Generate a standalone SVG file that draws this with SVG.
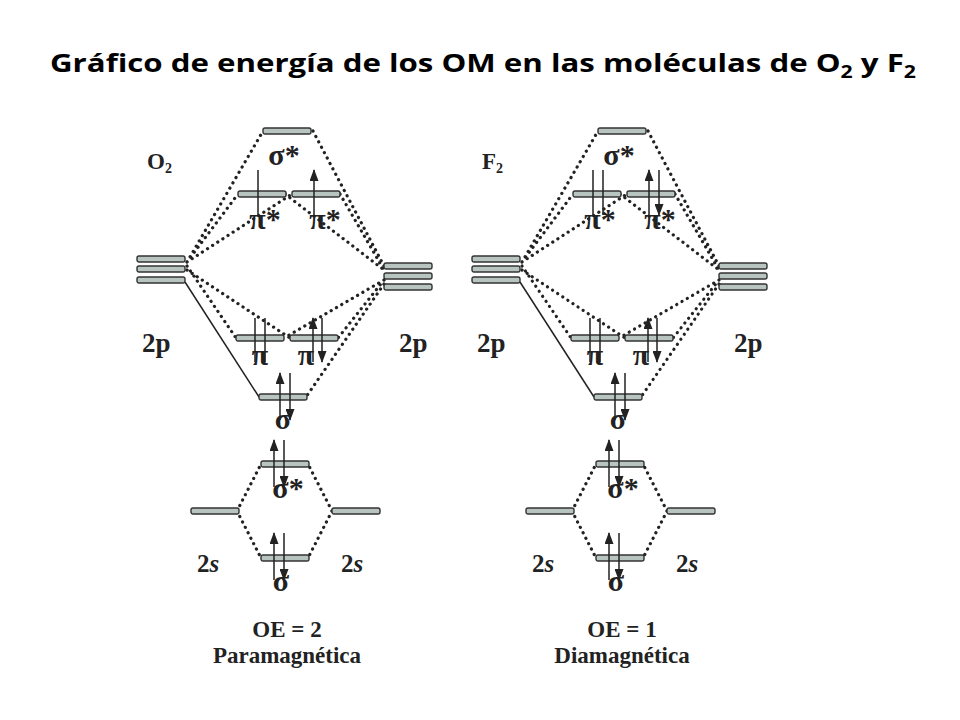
<svg xmlns="http://www.w3.org/2000/svg" width="960" height="720" viewBox="0 0 960 720">
<style>
.t{font-family:"Liberation Serif",serif;font-weight:bold;fill:#222}
.b{fill:#b8c4c0;stroke:#333;stroke-width:1.4}
.d{stroke:#222;stroke-width:3.2;stroke-dasharray:0.1 6;stroke-linecap:round;fill:none}
.a{stroke:#222;stroke-width:1.5;fill:none}
</style>
<defs>
<marker id="ah" markerWidth="12" markerHeight="9" refX="11" refY="4.5" orient="auto" markerUnits="userSpaceOnUse" viewBox="0 0 12 9"><path d="M0,0 L12,4.5 L0,9 Z" fill="#222"/></marker>
<rect id="bar" class="b" x="0" y="-3" width="48" height="6" rx="2"/>
<g id="base">
<g id="connectors">
<path class="d" d="M187,262 L263,131 M187,262 L238,194 M187,262 L292,194 M285,194 L384,270 M313,131 L384,266 M340,194 L384,270"/>
<path class="d" d="M187,266 L236,338 M187,270 L290,338 M384,280 L338,338 M384,280 L284,338 M384,284 L306,397"/>
<path class="a" d="M185,282 L259,397"/>
<path class="d" d="M237,511 L261,464 M237,511 L261,558 M332,511 L308,464 M332,511 L308,558"/>
</g>
<g id="levels">
<use href="#bar" x="263" y="131"/>
<use href="#bar" x="238" y="194"/><use href="#bar" x="292" y="194"/>
<use href="#bar" x="137" y="259"/><use href="#bar" x="137" y="269"/><use href="#bar" x="137" y="280"/>
<use href="#bar" x="384" y="266"/><use href="#bar" x="384" y="276"/><use href="#bar" x="384" y="287"/>
<use href="#bar" x="236" y="338"/><use href="#bar" x="290" y="338"/>
<use href="#bar" x="259" y="397"/>
<use href="#bar" x="261" y="464"/>
<use href="#bar" x="191" y="511"/><use href="#bar" x="332" y="511"/>
<use href="#bar" x="261" y="558"/>
</g>
<g id="electrons" class="a">
<path d="M258,215 L258,170 M314,215 L314,170" marker-end="url(#ah)"/>
<path d="M255,362 L255,318 M313,362 L313,318" marker-end="url(#ah)"/>
<path d="M265,318 L265,362 M322,318 L322,362" marker-end="url(#ah)"/>
<path d="M280,420 L280,373" marker-end="url(#ah)"/><path d="M290,373 L290,420" marker-end="url(#ah)"/>
<path d="M274,487 L274,440" marker-end="url(#ah)"/><path d="M284,440 L284,487" marker-end="url(#ah)"/>
<path d="M274,580 L274,533" marker-end="url(#ah)"/><path d="M284,533 L284,580" marker-end="url(#ah)"/>
</g>
<g font-size="30" class="t">
<text x="284" y="165" text-anchor="middle">σ*</text>
<text x="265" y="229" text-anchor="middle">π*</text>
<text x="325" y="229" text-anchor="middle">π*</text>
<text x="142" y="352" font-size="27">2p</text>
<text x="399" y="352" font-size="27">2p</text>
<text x="260" y="365" text-anchor="middle">π</text>
<text x="306" y="365" text-anchor="middle">π</text>
<text x="283" y="429" text-anchor="middle">σ</text>
<text x="288" y="498" text-anchor="middle">σ*</text>
<text x="281" y="591" text-anchor="middle">σ</text>
<text x="197" y="572" font-size="25">2<tspan font-style="italic">s</tspan></text>
<text x="341" y="572" font-size="25">2<tspan font-style="italic">s</tspan></text>
</g>
</g>
</defs>
<rect width="960" height="720" fill="#fff"/>
<text x="483" y="72" text-anchor="middle" font-family="Open Sans,Liberation Sans,sans-serif" font-weight="bold" font-size="25" fill="#000" textLength="866" lengthAdjust="spacingAndGlyphs">Gráfico de energía de los OM en las moléculas de O<tspan font-size="17" dy="6">2</tspan><tspan dy="-6"> y F</tspan><tspan font-size="17" dy="6">2</tspan></text>
<g id="O2"><use href="#base"/>
<text class="t" x="147" y="169" font-size="23">O<tspan font-size="14" dy="4">2</tspan></text>
<text class="t" x="287" y="637" font-size="23" text-anchor="middle">OE = 2</text>
<text class="t" x="287" y="663" font-size="23" text-anchor="middle">Paramagnética</text>
</g>
<g id="F2" transform="translate(335,0)"><use href="#base"/>
<g class="a"><path d="M268,170 L268,215 M324,170 L324,215" marker-end="url(#ah)"/></g>
<text class="t" x="147" y="169" font-size="23">F<tspan font-size="14" dy="4">2</tspan></text>
<text class="t" x="287" y="637" font-size="23" text-anchor="middle">OE = 1</text>
<text class="t" x="287" y="663" font-size="23" text-anchor="middle">Diamagnética</text>
</g>
</svg>
